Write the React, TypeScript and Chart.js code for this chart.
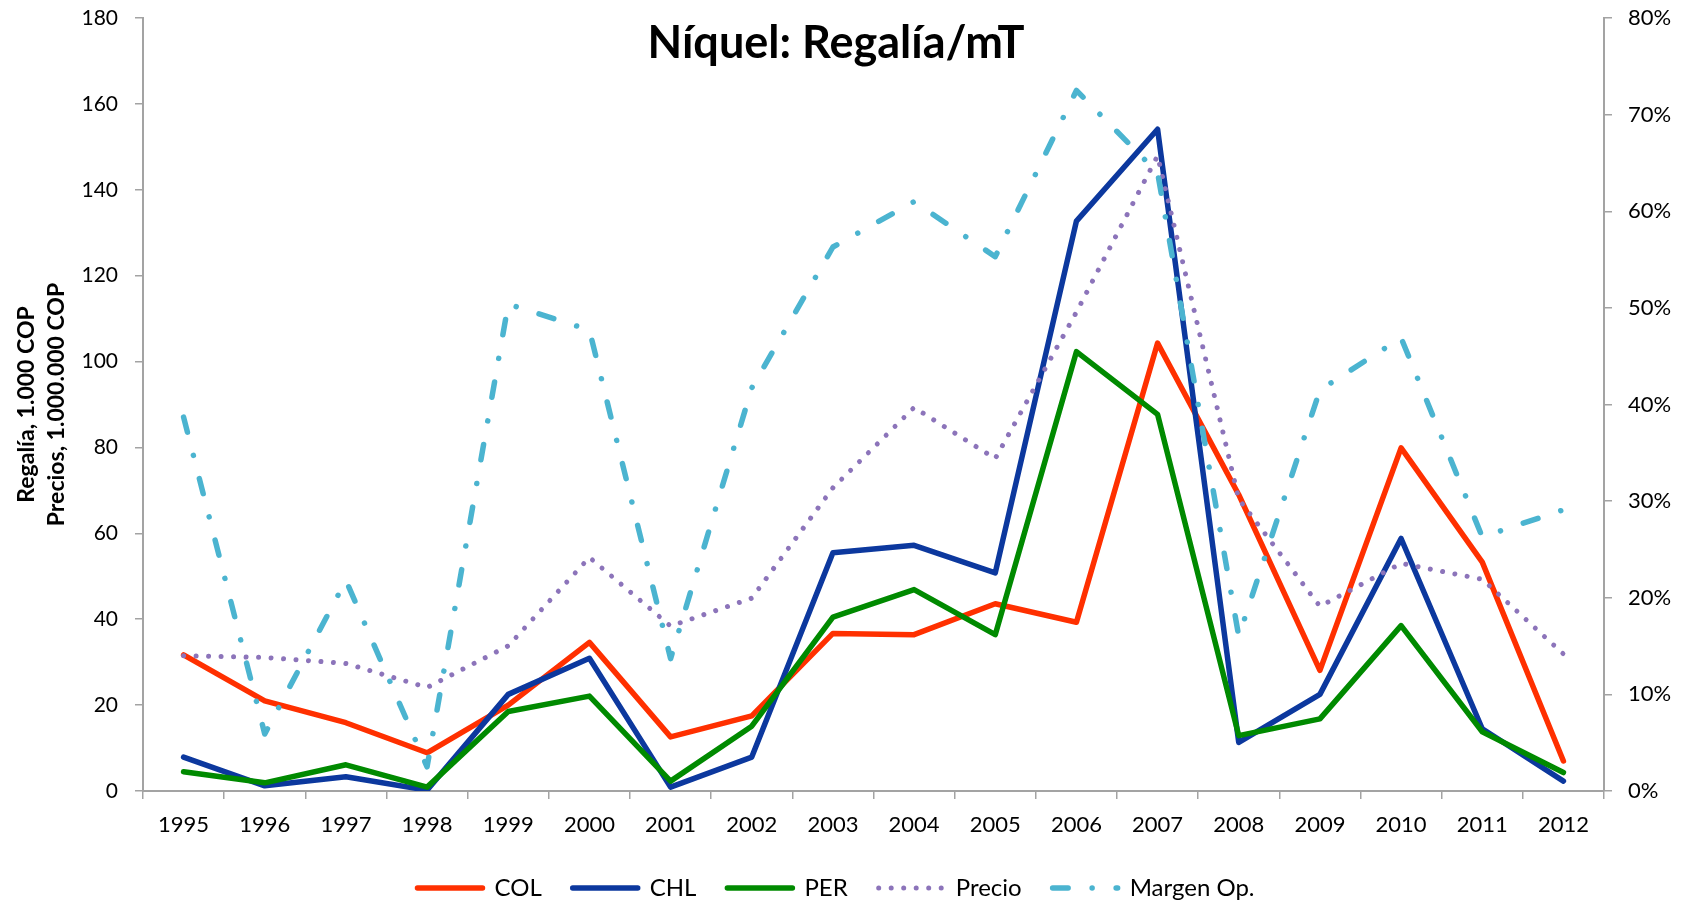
import React, { useEffect, useRef } from 'react';
import { Chart, registerables } from 'chart.js';

Chart.register(...registerables);

// ---- data ----
const years = ['1995', '1996', '1997', '1998', '1999', '2000', '2001', '2002', '2003', '2004', '2005', '2006', '2007', '2008', '2009', '2010', '2011', '2012'];
const colValues = [31.7, 21.0, 15.9, 8.9, 20.0, 34.6, 12.6, 17.5, 36.7, 36.4, 43.6, 39.3, 104.3, 69.0, 28.1, 79.9, 53.3, 7.0];
const chlValues = [7.9, 1.2, 3.3, 0.2, 22.5, 30.9, 0.9, 7.9, 55.5, 57.2, 50.8, 132.7, 154.1, 11.3, 22.5, 58.8, 14.5, 2.3];
const perValues = [4.5, 1.9, 6.1, 0.9, 18.5, 22.1, 2.3, 15.1, 40.5, 46.9, 36.4, 102.3, 87.7, 12.9, 16.8, 38.5, 13.8, 4.3];
const precioValues = [31.5, 31.1, 29.7, 24.1, 33.8, 54.4, 38.4, 44.9, 70.6, 89.3, 77.4, 111.5, 147.9, 68.0, 43.0, 53.0, 49.3, 31.9];
const margenValues = [38.7, 5.9, 21.8, 2.5, 50.4, 47.7, 13.7, 41.7, 56.3, 61.0, 55.3, 72.5, 64.0, 16.0, 41.5, 46.9, 26.3, 29.1];

const seriesLabels = ['COL', 'CHL', 'PER', 'Precio', 'Margen Op.'];
const TITLE = 'Níquel: Regalía/mT';
const Y_TITLE = ['Regalía, 1.000 COP', 'Precios, 1.000.000 COP'];
const leftAxis = { min: 0, max: 180, step: 20 };
const rightAxis = { min: 0, max: 80, step: 10 };

// ---- styles ----
const FONT = 'Lato, "Open Sans", sans-serif';
const AXIS_COLOR = '#A3A3A3';
const COLORS = {
  col: 'rgb(255,48,0)',
  chl: 'rgb(12,56,158)',
  per: 'rgb(0,138,0)',
  precio: 'rgb(140,116,186)',
  margen: 'rgb(75,180,208)',
};

const noPad = (s: any) => {
  s.paddingTop = 0;
  s.paddingBottom = 0;
  s.paddingLeft = 0;
  s.paddingRight = 0;
};

export default function App() {
  const canvasRef = useRef<HTMLCanvasElement | null>(null);

  useEffect(() => {
    const canvas = canvasRef.current;
    if (!canvas) return;
    const lw = 5.5;
    const chart = new Chart(canvas, {
      type: 'line',
      data: {
        labels: years,
        datasets: [
          { label: seriesLabels[0], data: colValues, borderColor: COLORS.col, backgroundColor: COLORS.col, borderWidth: lw, yAxisID: 'y', order: 5 },
          { label: seriesLabels[1], data: chlValues, borderColor: COLORS.chl, backgroundColor: COLORS.chl, borderWidth: lw, yAxisID: 'y', order: 4 },
          { label: seriesLabels[2], data: perValues, borderColor: COLORS.per, backgroundColor: COLORS.per, borderWidth: lw, yAxisID: 'y', order: 3 },
          { label: seriesLabels[3], data: precioValues, borderColor: COLORS.precio, backgroundColor: COLORS.precio, borderWidth: 5, borderDash: [0.001, 12.5], yAxisID: 'y', order: 2 },
          { label: seriesLabels[4], data: margenValues, borderColor: COLORS.margen, backgroundColor: COLORS.margen, borderWidth: lw, borderDash: [15.5, 24, 0.001, 24], yAxisID: 'y1', order: 1 },
        ].map((d) => ({ ...d, fill: false, tension: 0, pointRadius: 0, pointHoverRadius: 0, borderCapStyle: 'round', borderJoinStyle: 'round' })) as any,
      },
      options: {
        responsive: false,
        animation: false,
        devicePixelRatio: 1,
        events: [],
        layout: { padding: { left: 0, right: 22, top: 18, bottom: -9 } },
        plugins: {
          title: {
            display: true,
            text: TITLE,
            color: '#000',
            font: { family: FONT, size: 45, weight: 'bold', lineHeight: 1.2 },
            padding: { top: -2, bottom: -52 },
          },
          legend: {
            display: true,
            position: 'bottom',
            align: 'center',
            labels: {
              usePointStyle: true,
              pointStyleWidth: 65,
              padding: 31,
              color: '#000',
              font: { family: FONT, size: 24 },
              generateLabels: (ch: any) =>
                ch.data.datasets.map((ds: any, i: number) => ({
                  text: ds.label,
                  fillStyle: ds.borderColor,
                  strokeStyle: ds.borderColor,
                  lineWidth: ds.borderWidth,
                  lineDash: ds.borderDash || [],
                  lineCap: 'round',
                  lineJoin: 'round',
                  pointStyle: 'line',
                  hidden: false,
                  fontColor: '#000',
                  datasetIndex: i,
                })),
            },
          },
          tooltip: { enabled: false },
        },
        scales: {
          x: {
            type: 'category',
            offset: true,
            afterFit: (s: any) => { s.height = 54; noPad(s); },
            grid: { display: true, offset: true, drawOnChartArea: false, drawTicks: true, tickLength: 8, color: AXIS_COLOR, lineWidth: 1.5 },
            border: { display: true, color: AXIS_COLOR, width: 2 },
            ticks: { color: '#000', font: { family: FONT, size: 22 }, padding: 13, maxRotation: 0, autoSkip: false },
          },
          y: {
            type: 'linear',
            position: 'left',
            min: leftAxis.min,
            max: leftAxis.max,
            afterFit: (s: any) => { s.width = 143; noPad(s); },
            grid: { display: true, drawOnChartArea: false, drawTicks: true, tickLength: 8, color: AXIS_COLOR, lineWidth: 1.5 },
            border: { display: true, color: AXIS_COLOR, width: 2 },
            ticks: { stepSize: leftAxis.step, color: '#000', font: { family: FONT, size: 21 }, padding: 17 },
            title: {
              display: true,
              text: Y_TITLE,
              color: '#000',
              font: { family: FONT, size: 23, weight: 'bold', lineHeight: 1.3 },
              padding: { top: 12, bottom: 0 },
            },
          },
          y1: {
            type: 'linear',
            position: 'right',
            min: rightAxis.min,
            max: rightAxis.max,
            afterFit: (s: any) => { s.width = 68; noPad(s); },
            grid: { display: true, drawOnChartArea: false, drawTicks: true, tickLength: 8, color: AXIS_COLOR, lineWidth: 1.5 },
            border: { display: true, color: AXIS_COLOR, width: 2 },
            ticks: { stepSize: rightAxis.step, color: '#000', font: { family: FONT, size: 22 }, padding: 16, callback: (v: any) => v + '%' },
          },
        },
      } as any,
    });
    return () => chart.destroy();
  }, []);

  return (
    <div style={{ position: 'fixed', left: 0, top: 0, width: 1694, height: 901, background: '#fff', overflow: 'hidden' }}>
      <canvas ref={canvasRef} width={1694} height={901} style={{ display: 'block', width: 1694, height: 901 }} />
    </div>
  );
}
